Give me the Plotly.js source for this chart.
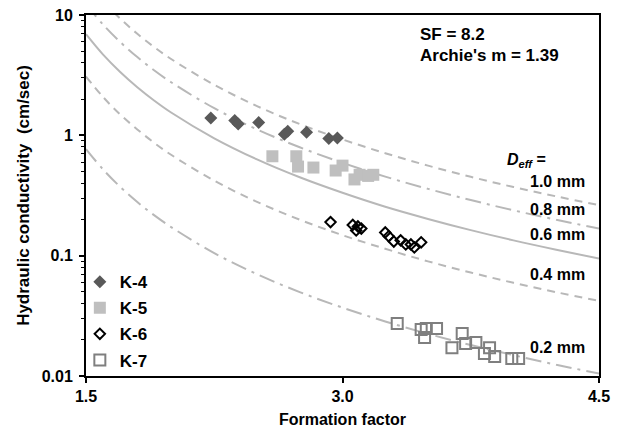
<!DOCTYPE html>
<html><head><meta charset="utf-8">
<script src="https://cdn.plot.ly/plotly-3.0.1.min.js"></script>
<style>html,body{margin:0;padding:0;background:#fff;}#chart{width:622px;height:428px;}</style>
</head><body><div id="chart"></div>
<script>
// Theoretical curves (formation factor grid and K)
const F_grid = [1.5,1.6,1.7,1.8,1.9,2.0,2.25,2.5,2.75,3.0,3.25,3.5,3.75,4.0,4.25,4.5];
const K_d10 = [19.2,13.0,9.33,6.98,5.40,4.29,2.63,1.75,1.24,0.924,0.710,0.560,0.452,0.372,0.311,0.263];
const K_d08 = [12.3,8.32,5.97,4.47,3.46,2.75,1.68,1.12,0.796,0.591,0.454,0.359,0.290,0.238,0.199,0.168];
const K_d06 = [6.92,4.68,3.36,2.51,1.94,1.54,0.945,0.631,0.448,0.333,0.255,0.202,0.163,0.134,0.112,0.0946];
const K_d04 = [3.08,2.08,1.49,1.12,0.864,0.686,0.420,0.280,0.199,0.148,0.114,0.0897,0.0724,0.0595,0.0497,0.0421];
const K_d02 = [0.769,0.520,0.373,0.279,0.216,0.172,0.105,0.0701,0.0498,0.0370,0.0284,0.0224,0.0181,0.0149,0.0124,0.0105];
const curveLabels = ["1.0 mm","0.8 mm","0.6 mm","0.4 mm","0.2 mm"];

// Measured samples
const K4_F = [2.23,2.37,2.39,2.51,2.66,2.68,2.79,2.92,2.97];
const K4_K = [1.39,1.33,1.24,1.28,1.02,1.08,1.06,0.94,0.95];
const K5_F = [2.59,2.73,2.74,2.83,2.96,3.00,3.07,3.10,3.15,3.18];
const K5_K = [0.67,0.67,0.55,0.54,0.51,0.56,0.43,0.47,0.46,0.47];
const K6_F = [2.93,3.06,3.09,3.11,3.08,3.25,3.27,3.30,3.34,3.37,3.40,3.42,3.46];
const K6_K = [0.19,0.18,0.175,0.168,0.162,0.156,0.145,0.131,0.134,0.124,0.124,0.117,0.129];
const K7_F = [3.32,3.46,3.49,3.55,3.48,3.70,3.64,3.72,3.78,3.86,3.83,3.89,3.99,4.03];
const K7_K = [0.0273,0.0243,0.0248,0.0248,0.0209,0.0225,0.0172,0.0186,0.0190,0.0172,0.0154,0.0145,0.0140,0.0140];

const xTicks = [1.5,3.0,4.5];
const xTickText = ["1.5","3.0","4.5"];

const FONT = "Liberation Sans, Arial, sans-serif";
const lineColor = "#b8b8b8";
const dashed = "8px,6px";
const dashdot = "16px,6px,3px,6px";

function curve(y, dash){
  return {x:F_grid, y:y, mode:"lines", showlegend:false, hoverinfo:"skip",
    line:{color:lineColor, width:2, dash:dash, shape:"spline", smoothing:1}};
}
const traces = [
  curve(K_d10, dashed),
  curve(K_d08, dashdot),
  curve(K_d06, "solid"),
  curve(K_d04, dashed),
  curve(K_d02, dashdot),
  {x:K4_F, y:K4_K, mode:"markers", name:"K-4", legendgroup:"a",
   marker:{symbol:"diamond", size:10, color:"#595959"}},
  {x:K5_F, y:K5_K, mode:"markers", name:"K-5", legendgroup:"b",
   marker:{symbol:"square", size:12, color:"#bfbfbf"}},
  {x:K6_F, y:K6_K, mode:"markers", name:"K-6", legendgroup:"c",
   marker:{symbol:"diamond-open", size:8, color:"#000000", line:{width:2}}},
  {x:K7_F, y:K7_K, mode:"markers", name:"K-7", legendgroup:"d",
   marker:{symbol:"square-open", size:11, color:"#7f7f7f", line:{width:2}}}
];

const labelY = [0.5374,0.4626,0.3906,0.2798,0.0803];
const annotations = curveLabels.map((t,i)=>({xref:"paper", yref:"paper", x:0.9766, y:labelY[i],
  xanchor:"right", yanchor:"middle", text:"<b>"+t+"</b>", showarrow:false,
  font:{family:FONT, size:16, color:"#000"}}));
annotations.push({xref:"paper", yref:"paper", x:0.647, y:0.9446, xanchor:"left", yanchor:"middle",
  text:"<b>SF = 8.2</b>", showarrow:false, font:{family:FONT, size:17, color:"#000"}});
annotations.push({xref:"paper", yref:"paper", x:0.647, y:0.889, xanchor:"left", yanchor:"middle",
  text:"<b>Archie's m = 1.39</b>", showarrow:false, font:{family:FONT, size:17, color:"#000"}});
annotations.push({xref:"paper", yref:"paper", x:0.817, y:0.5956, xanchor:"left", yanchor:"middle",
  text:"<b><i>D<sub>eff</sub></i> =</b>", showarrow:false, font:{family:FONT, size:16, color:"#000"}});

const layout = {
  width:622, height:428,
  margin:{l:86, r:23, t:15, b:52},
  paper_bgcolor:"#fff", plot_bgcolor:"#fff",
  font:{family:FONT, color:"#000"},
  showlegend:true,
  legend:{x:-0.012, y:0.31, xanchor:"left", yanchor:"top", bgcolor:"rgba(0,0,0,0)",
    font:{family:FONT, size:17, color:"#000", weight:"bold"}, tracegroupgap:1, itemwidth:30},
  xaxis:{range:[1.5,4.5], tickvals:xTicks, ticktext:xTickText, showgrid:false, zeroline:false,
    showline:true, linecolor:"#000", linewidth:2, mirror:true,
    ticks:"outside", ticklen:5, tickwidth:2, tickcolor:"#000", ticklabelstandoff:0,
    tickfont:{family:FONT, size:16, color:"#000", weight:"bold"},
    title:{text:"<b>Formation factor</b>", font:{family:FONT, size:16, color:"#000"}, standoff:20}},
  yaxis:{type:"log", range:[-2,1], dtick:1, showgrid:false, zeroline:false,
    showline:true, linecolor:"#000", linewidth:2, mirror:true,
    ticks:"outside", ticklen:5, tickwidth:2, tickcolor:"#000", ticklabelstandoff:3,
    exponentformat:"none",
    tickfont:{family:FONT, size:16, color:"#000", weight:"bold"},
    minor:{ticks:"outside", ticklen:3, tickwidth:1, tickcolor:"#000", dtick:"D1", showgrid:false},
    title:{text:"<b>Hydraulic conductivity  (cm/sec)</b>", font:{family:FONT, size:17, color:"#000"}, standoff:8}},
  annotations:annotations
};
Plotly.newPlot("chart", traces, layout, {displayModeBar:false, staticPlot:true});
</script></body></html>
